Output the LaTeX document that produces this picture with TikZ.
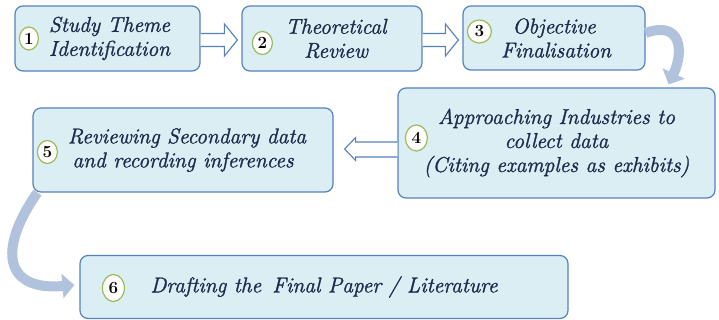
\documentclass[tikz,border=0pt]{standalone}
\usepackage{fontspec}
\setmainfont{Latin Modern Roman}[ItalicFeatures={FakeBold=1.3}]
\usepackage{tikz}
\usetikzlibrary{arrows.meta, calc, positioning, shapes.geometric}
\definecolor{boxfill}{RGB}{219,238,244}
\definecolor{boxline}{RGB}{84,130,190}
\definecolor{txt}{RGB}{28,42,76}
\definecolor{ringgreen}{RGB}{155,187,89}
\definecolor{bendcol}{RGB}{176,194,220}
\tikzstyle{block}=[draw=boxline, line width=1.2pt, fill=boxfill, rounded corners=8pt, align=center, text=txt, font=\fontsize{21.5}{24}\selectfont\itshape, inner sep=0pt]
\tikzstyle{num}=[ellipse, draw=ringgreen, line width=1.2pt, fill=white, inner sep=0pt, font=\fontsize{17}{17}\selectfont\bfseries]
\tikzstyle{hollow}=[draw=boxline, line width=1.1pt, fill=white, line join=miter]
\tikzstyle{curvearrow}=[draw=bendcol, line width=10pt, -{Triangle[length=12pt, width=24pt]}]

\begin{document}
\begin{tikzpicture}[x=1pt, y=1pt]
	\useasboundingbox (0,0) rectangle (719,-320);
	\node[block, minimum width=185pt, minimum height=65pt] (S1) at (107.5,-38.5) {\hspace*{4pt}Study Theme\\\hspace*{4pt}Identification};
	\node[block, minimum width=180pt, minimum height=65pt] (S2) at (332,-38.5) {\hspace*{8pt}Theoretical\\\hspace*{8pt}Review};
	\node[block, minimum width=182pt, minimum height=64pt] (S3) at (554,-38) {Objective\\\hspace*{4pt}Finalisation};
	\node[block, minimum width=317pt, minimum height=110pt] (S4) at (556.5,-143) {Approaching Industries to\\collect data\\(Citing examples as exhibits)};
	\node[block, minimum width=300pt, minimum height=84pt] (S5) at (183,-150) {\hspace*{8pt}Reviewing Secondary data\\and recording inferences};
	\node[block, minimum width=488pt, minimum height=63pt] (S6) at (324,-287) {Drafting the\, Final Paper / Literature};
	\node[num, minimum width=19pt, minimum height=23pt] (N1) at ([xshift=14.5pt]S1.west) {1};
	\node[num, minimum width=20pt, minimum height=23pt] (N2) at ([xshift=21pt, yshift=-4.5pt]S2.west) {2};
	\node[num, minimum width=24pt, minimum height=23pt] (N3) at ([xshift=17pt, yshift=6.5pt]S3.west) {3};
	\node[num, minimum width=22pt, minimum height=26pt] (N4) at ([xshift=19pt, yshift=5pt]S4.west) {4};
	\node[num, minimum width=20pt, minimum height=23pt] (N5) at ([xshift=15pt, yshift=-2pt]S5.west) {5};
	\node[num, minimum width=22pt, minimum height=27pt] (N6) at ([xshift=34pt, yshift=-1pt]S6.west) {6};
	% block arrows
	\draw[hollow] ($(S1.east)+(0,5)$) -- ($(S2.west)+(-17,5)$) -- ($(S2.west)+(-17,14.5)$) -- ($(S2.west)+(-4,-1.5)$) -- ($(S2.west)+(-17,-17.5)$) -- ($(S2.west)+(-17,-8)$) -- ($(S1.east)+(0,-8)$);
	\draw[hollow] ($(S2.east)+(0,5)$) -- ($(S3.west)+(-17,4.5)$) -- ($(S3.west)+(-17,14)$) -- ($(S3.west)+(-4,-2)$) -- ($(S3.west)+(-17,-18)$) -- ($(S3.west)+(-17,-8.5)$) -- ($(S2.east)+(0,-8)$);
	\draw[hollow] ($(S4.west)+(0,1)$) -- ($(S5.east)+(22,8)$) -- ($(S5.east)+(22,12.5)$) -- ($(S5.east)+(11,1)$) -- ($(S5.east)+(22,-10.5)$) -- ($(S5.east)+(22,-7)$) -- ($(S4.west)+(0,-14)$);
	% curved arrows
	\draw[curvearrow] ([yshift=5pt]S3.east) to[out=20, in=65, looseness=1.7] ([xshift=-47pt, yshift=3pt]S4.north east);
	\draw[curvearrow] ([xshift=5pt]S5.south west) to[out=235, in=185, looseness=1.8] ([xshift=-5pt, yshift=2pt]S6.west);
\end{tikzpicture}
\end{document}
